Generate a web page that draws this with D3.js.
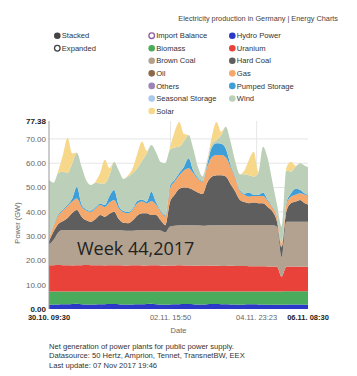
<!DOCTYPE html>
<html><head><meta charset="utf-8">
<script src="https://cdn.jsdelivr.net/npm/d3@7"></script>
<style>
body{margin:0;background:#fff}
svg{display:block}
text{font-family:"Liberation Sans",Arial,Helvetica,sans-serif}
text.overlay{font-family:"Open Sans","Noto Sans",sans-serif}
</style>
</head><body>
<svg id="chart" width="357" height="376"></svg>
<script>
// ---------- DATA (GW, 3-hour steps) ----------
const startTime = "2017-10-30T09:30:00";
const stepHours = 3;
const hydro = [1.8,1.9,1.9,2.0,2.0,2.1,2.2,2.0,1.9,1.9,
  1.9,2.0,2.0,2.1,2.1,2.0,1.9,1.9,1.9,2.0,
  2.0,2.1,2.2,2.0,1.9,1.8,1.9,2.0,2.0,2.1,
  2.1,2.0,1.9,1.9,2.0,2.1,2.1,2.0,2.0,1.9,
  1.9,1.8,1.9,2.0,2.0,1.9,1.9,1.8,1.8,1.8,
  1.8,1.8,1.9,1.9,1.9,1.8,1.8];
const biomass = [5.4,5.3,5.3,5.2,5.2,5.1,5.0,5.2,5.3,5.3,
  5.3,5.2,5.2,5.1,5.1,5.2,5.3,5.3,5.3,5.2,
  5.2,5.1,5.0,5.2,5.3,5.4,5.3,5.2,5.2,5.1,
  5.1,5.2,5.3,5.3,5.2,5.1,5.1,5.2,5.2,5.3,
  5.3,5.4,5.3,5.2,5.2,5.3,5.3,5.4,5.4,5.4,
  5.4,5.5,5.4,5.4,5.4,5.5,5.5];
const uranium = [10.8,10.8,10.9,10.8,10.8,10.7,10.8,10.8,10.9,10.8,
  10.8,10.8,10.7,10.8,10.8,10.8,10.7,10.7,10.8,10.8,
  10.7,10.7,10.8,10.8,10.7,10.6,10.7,10.7,10.8,10.7,
  10.7,10.6,10.6,10.7,10.7,10.6,10.6,10.5,10.5,10.6,
  10.5,10.5,10.5,10.4,10.4,10.4,10.4,10.3,10.3,10.2,
  6.1,10.1,10.2,10.2,10.1,10.1,10.1];
const brownCoal = [8.5,10.5,13.4,14.5,14.5,14.6,14.5,14.5,14.4,14.5,
  14.5,14.5,14.6,14.5,14.5,14.5,14.4,14.3,14.2,14.4,
  14.6,14.6,14.5,14.5,14.4,13.7,16.1,16.4,16.5,16.6,
  16.6,16.7,16.7,16.4,16.5,16.7,16.7,16.8,16.8,16.7,
  16.9,16.9,16.9,17.0,17.0,17.0,17.0,17.1,17.0,16.6,
  8.1,18.5,18.4,18.4,18.5,18.5,18.5];
const hardCoal = [1.5,3.5,3.5,3.7,5.0,7.0,8.2,5.5,4.0,3.4,
  4.5,6.2,5.5,6.7,7.5,4.5,3.2,3.1,4.3,6.1,
  6.9,6.9,6.2,6.2,4.2,3.0,10.0,12.7,15.0,15.5,
  15.3,14.5,13.5,13.0,17.6,19.9,20.5,20.6,20.0,17.0,
  13.9,10.4,9.4,8.9,9.2,8.9,8.9,7.4,5.7,2.0,
  4.0,4.1,7.6,8.3,9.0,7.6,6.9];
const gas = [1.0,2.5,3.5,4.3,5.0,4.7,4.8,4.1,4.0,4.1,
  4.4,4.1,4.0,4.6,4.9,4.5,4.3,4.1,4.5,5.0,
  4.8,4.1,5.8,4.3,3.5,3.5,5.5,5.5,5.5,7.0,
  8.1,7.0,5.5,5.1,6.5,8.1,8.4,8.3,8.0,7.0,
  5.5,3.5,3.0,2.7,2.7,3.0,3.0,2.5,1.8,2.0,
  1.6,3.0,2.7,2.8,2.7,3.5,3.4];
const pumpedStorage = [0.1,0.3,0.5,0.5,0.5,1.3,4.8,0.9,0.5,0.5,
  0.5,0.5,0.8,2.7,4.1,1.0,0.5,0.5,0.5,1.0,
  0.8,0.7,3.8,1.0,0.5,0.5,1.0,0.7,1.0,1.5,
  4.1,1.0,0.5,0.3,1.0,4.0,4.8,4.6,3.5,1.0,
  0.5,0.5,0.5,1.8,0.5,0.5,1.5,0.5,0.3,0.2,
  0.1,0.5,1.3,2.5,1.4,0.5,0.5];
const wind = [24.0,17.2,17.0,15.5,13.0,14.5,14.0,15.5,12.0,10.5,
  10.1,8.4,8.9,8.5,11.5,14.5,13.2,14.6,14.5,13.5,
  16.0,19.8,19.2,20.5,20.0,21.5,15.0,13.3,10.8,10.5,
  9.6,9.0,4.5,1.8,1.5,1.5,1.3,3.5,9.0,9.5,
  6.5,6.5,8.0,7.0,7.5,9.0,18.8,17.0,10.2,4.8,
  6.9,13.5,9.0,9.0,11.0,11.5,11.3];
const solar = [0,0,1.0,7.0,14.5,4.0,0,0,0,0,
  0.5,4.3,9.7,3.0,0,0,0,0.5,2.0,6.0,
  7.9,1.0,0,0,0,0,1.0,6.5,10.2,3.0,
  0,0,0,0,0,3.0,7.5,1.5,0,0,
  0,0,1.5,6.5,10.2,0.5,0,0,0,0,
  0,1.0,4.1,0.5,0,0,0];

const seriesKeys = ["Hydro Power","Biomass","Uranium","Brown Coal","Hard Coal","Gas","Pumped Storage","Wind","Solar"];
const seriesValues = [hydro,biomass,uranium,brownCoal,hardCoal,gas,pumpedStorage,wind,solar];

const xTickTimes = ["2017-10-30T09:30:00","2017-11-02T15:50:00","2017-11-04T23:23:00","2017-11-06T08:30:00"];
const yTickValues = [0,10,20,30,40,50,60,70];
const yMax = 77.38;

const legendCol1 = ["Stacked","Expanded"];
const legendCol2 = ["Import Balance","Biomass","Brown Coal","Oil","Others","Seasonal Storage","Solar"];
const legendCol3 = ["Hydro Power","Uranium","Hard Coal","Gas","Pumped Storage","Wind"];

const captionLines = ["Net generation of power plants for public power supply.",
  "Datasource: 50 Hertz, Amprion, Tennet, TransnetBW, EEX",
  "Last update: 07 Nov 2017 19:46"];
const titleText = "Electricity production in Germany | Energy Charts";
const overlayText = "Week 44,2017";

// ---------- STYLE ----------
const colors = {
  "Hydro Power":"#2b39c8","Biomass":"#4bab5c","Uranium":"#e8423b","Brown Coal":"#b4a290",
  "Hard Coal":"#5e5e5e","Gas":"#f4a86c","Pumped Storage":"#3d9ed8","Wind":"#bccfb9",
  "Solar":"#f7d88a","Import Balance":"#8e5ea2","Oil":"#8b6a4c","Others":"#9a84b8",
  "Seasonal Storage":"#aac8ec","Stacked":"#444","Expanded":"#444"
};
const openMarkers = new Set(["Expanded","Import Balance"]);

const plot = {left:49, right:308, top:121, bottom:309};

const svg = d3.select("#chart");

const t0 = new Date(startTime);
const rows = hydro.map((_, i) => {
  const r = {time: new Date(t0.getTime() + i*stepHours*3600e3)};
  seriesKeys.forEach((k, j) => r[k] = seriesValues[j][i]);
  return r;
});

const xTicks = xTickTimes.map(s => new Date(s));
const x = d3.scaleTime().domain([xTicks[0], xTicks[xTicks.length-1]]).range([plot.left, plot.right]);
const y = d3.scaleLinear().domain([0, yMax]).range([plot.bottom, plot.top]);

// clip
svg.append("defs").append("clipPath").attr("id","clip")
  .append("rect").attr("x",plot.left).attr("y",plot.top-2)
  .attr("width",plot.right-plot.left).attr("height",plot.bottom-plot.top+2);

// grid
const grid = svg.append("g");
grid.selectAll("line.h").data(yTickValues.slice(1)).join("line")
  .attr("x1",plot.left).attr("x2",plot.right)
  .attr("y1",d=>y(d)).attr("y2",d=>y(d))
  .attr("stroke","#e6e6e6").attr("stroke-width",1);
grid.selectAll("line.v").data(xTicks.slice(1,-1)).join("line")
  .attr("x1",d=>x(d)).attr("x2",d=>x(d))
  .attr("y1",plot.top).attr("y2",plot.bottom)
  .attr("stroke","#e6e6e6").attr("stroke-width",1);

// stacked areas
const stack = d3.stack().keys(seriesKeys);
const layers = stack(rows);
const area = d3.area()
  .x(d => x(d.data.time))
  .y0(d => y(d[0])).y1(d => y(d[1]))
  .curve(d3.curveMonotoneX);
svg.append("g").attr("clip-path","url(#clip)")
  .selectAll("path").data(layers).join("path")
  .attr("d", area).attr("fill", d => colors[d.key]);

// y axis line
svg.append("line").attr("x1",plot.left).attr("x2",plot.left)
  .attr("y1",plot.top).attr("y2",plot.bottom)
  .attr("stroke","#999").attr("stroke-width",1);

// y axis labels
const yLabels = yTickValues.concat([yMax]);
svg.append("g").selectAll("text").data(yLabels).join("text")
  .attr("x", plot.left-3).attr("y", d => y(d)).attr("dy","0.35em")
  .attr("text-anchor","end")
  .attr("font-size", 8)
  .attr("font-weight", d => (d===0 || d===yMax) ? "bold" : "normal")
  .attr("fill", d => (d===0 || d===yMax) ? "#222" : "#666")
  .text(d => d.toFixed(2));

// x axis labels
const fmt = d3.timeFormat("%d.%m. %H:%M");
svg.append("g").selectAll("text").data(xTicks).join("text")
  .attr("x", d => x(d)).attr("y", plot.bottom + 11)
  .attr("text-anchor","middle")
  .attr("font-size", 7.5)
  .attr("font-weight", (d,i) => (i===0 || i===xTicks.length-1) ? "bold" : "normal")
  .attr("fill", (d,i) => (i===0 || i===xTicks.length-1) ? "#222" : "#666")
  .text(d => fmt(d));

// axis titles
svg.append("text").attr("x", (plot.left+plot.right)/2).attr("y", 333)
  .attr("text-anchor","middle").attr("font-size",7.5).attr("fill","#666").text("Date");
svg.append("text").attr("transform",`translate(20,${(plot.top+plot.bottom)/2+8}) rotate(-90)`)
  .attr("text-anchor","middle").attr("font-size",7.5).attr("fill","#666").text("Power (GW)");

// overlay text
svg.append("text").attr("class","overlay").attr("x",77).attr("y",255)
  .attr("font-size",18).attr("fill","#222").text(overlayText);

// title
svg.append("text").attr("x",338).attr("y",21).attr("text-anchor","end")
  .attr("font-size",7.3).attr("fill","#444").text(titleText);

// legend
const legendRowY0 = 35.7, legendRowStep = 12.55;
function drawLegendCol(items, cx) {
  const g = svg.append("g");
  items.forEach((name, i) => {
    const cy = legendRowY0 + i*legendRowStep;
    const open = openMarkers.has(name);
    g.append("circle").attr("cx",cx).attr("cy",cy).attr("r", open ? 2.8 : 3.3)
      .attr("fill", open ? "#fff" : colors[name])
      .attr("stroke", open ? colors[name] : "none")
      .attr("stroke-width", open ? 1.3 : 0);
    g.append("text").attr("x",cx+4.5).attr("y",cy).attr("dy","0.35em")
      .attr("font-size",7.6).attr("fill","#333").text(name);
  });
}
drawLegendCol(legendCol1, 57.3);
drawLegendCol(legendCol2, 151.7);
drawLegendCol(legendCol3, 232.3);

// caption
svg.append("g").selectAll("text").data(captionLines).join("text")
  .attr("x",49).attr("y",(d,i)=>348.5 + i*9.7)
  .attr("font-size",7.6).attr("fill","#333").text(d=>d);
</script>
</body></html>
